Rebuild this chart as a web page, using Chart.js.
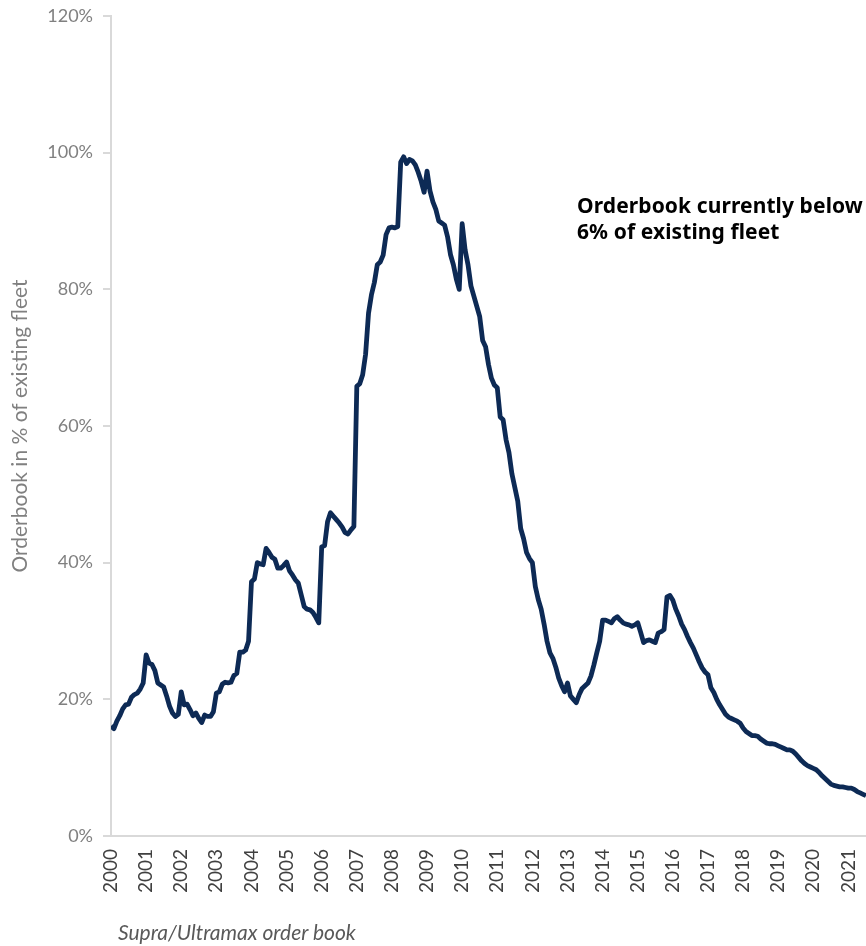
<!DOCTYPE html>
<html><head><meta charset="utf-8">
<script src="https://cdn.jsdelivr.net/npm/chart.js@4/dist/chart.umd.min.js"></script>
<style>
html,body{margin:0;padding:0;background:#fff;}
#wrap{position:relative;width:866px;height:946px;overflow:hidden;}
canvas{position:absolute;left:0;top:0;}
.note{position:absolute;left:577px;top:192px;font-family:'Noto Sans';font-weight:bold;font-size:21px;line-height:26px;color:#000;white-space:nowrap;letter-spacing:0.1px;}
.cap{position:absolute;left:118px;top:919px;font-family:Lato;font-style:italic;font-size:21px;color:#595959;white-space:nowrap;}
</style></head>
<body><div id="wrap"><canvas id="c" width="866" height="946"></canvas>
<div class="note">Orderbook currently below<br>6% of existing fleet</div>
<div class="cap">Supra/Ultramax order book</div></div>
<script>
// Monthly orderbook, % of existing fleet (Jan 2000 onwards)
const yearTicks = ['2000','2001','2002','2003','2004','2005','2006','2007','2008','2009','2010','2011','2012','2013','2014','2015','2016','2017','2018','2019','2020','2021'];
const ob2000_2003 = [
  16.1,15.7,16.8,17.6,18.6,19.2,19.3,20.3,20.7,20.9,21.5,22.4,
  26.5,25.3,25.1,24.2,22.4,22.1,21.8,20.5,19.0,18.0,17.5,17.8,
  21.1,19.2,19.3,18.5,17.6,18.0,17.2,16.6,17.7,17.5,17.5,18.2,
  20.9,21.1,22.2,22.5,22.4,22.5,23.5,23.8,26.9,26.9,27.2,28.5
];
const ob2004_2007 = [
  37.2,37.6,40.0,39.8,39.7,42.1,41.5,40.8,40.5,39.2,39.2,39.6,
  40.1,38.8,38.2,37.5,37.0,35.3,33.6,33.2,33.1,32.7,32.0,31.2,
  42.3,42.5,46.0,47.3,46.8,46.3,45.8,45.2,44.4,44.2,44.8,45.3,
  65.8,66.2,67.5,70.5,76.5,79.2,81.0,83.6,84.0,85.0,88.0,89.0
];
const ob2008_2011 = [
  89.1,89.0,89.2,98.6,99.4,98.4,99.0,98.8,98.2,97.1,95.8,94.2,
  97.3,94.4,92.8,91.7,90.0,89.7,89.4,87.7,85.1,83.6,81.5,80.0,
  89.6,85.8,83.6,80.5,79.0,77.5,76.0,72.5,71.6,69.0,67.0,66.0,
  65.6,61.3,60.9,58.0,56.1,53.0,51.0,49.0,45.0,43.5,41.5,40.6
];
const ob2012_2015 = [
  40.0,36.5,34.6,33.2,31.0,28.5,26.8,26.0,24.7,23.1,22.0,21.1,
  22.4,20.5,20.0,19.5,20.7,21.6,22.0,22.4,23.4,25.0,26.8,28.5,
  31.6,31.6,31.4,31.2,31.8,32.1,31.6,31.2,31.0,30.9,30.7,30.9,
  31.2,29.8,28.3,28.6,28.7,28.5,28.3,29.7,29.9,30.2,35.0,35.2
];
const ob2016_2021 = [
  34.5,33.2,32.2,31.0,30.2,29.2,28.3,27.5,26.5,25.5,24.6,24.0,
  23.6,21.7,21.0,20.0,19.2,18.5,17.8,17.4,17.2,17.0,16.8,16.5,
  15.8,15.3,15.0,14.7,14.7,14.6,14.2,13.9,13.6,13.5,13.5,13.4,
  13.2,13.0,12.8,12.6,12.6,12.4,12.0,11.5,11.0,10.6,10.3,10.1,
  9.9,9.7,9.3,8.8,8.4,8.0,7.6,7.4,7.3,7.2,7.2,7.1,
  7.0,7.0,6.8,6.5,6.3,6.1,5.9
];
const values = [].concat(ob2000_2003, ob2004_2007, ob2008_2011, ob2012_2015, ob2016_2021);
const points = values.map((v,i)=>({x:i, y:v}));

new Chart(document.getElementById('c'), {
  type: 'line',
  data: { datasets: [{
    data: points,
    borderColor: '#0d2a55',
    borderWidth: 4.8,
    pointRadius: 0,
    tension: 0,
    borderJoinStyle: 'round',
    borderCapStyle: 'butt'
  }]},
  options: {
    responsive: false,
    animation: false,
    events: [],
    layout: { padding: { top: 16, right: 0, left: 0, bottom: 0 } },
    plugins: { legend: { display: false }, tooltip: { enabled: false } },
    scales: {
      x: {
        type: 'linear', min: 0, max: values.length - 1,
        afterFit(s){ s.height = 110; s.paddingLeft = 0; s.paddingRight = 0; },
        grid: { display: false },
        border: { display: true, color: '#d9d9d9', width: 2 },
        ticks: {
          stepSize: 12, autoSkip: false, includeBounds: false,
          minRotation: 90, maxRotation: 90, padding: 5,
          color: '#404040', font: { family: 'Lato', size: 19 },
          callback: (v) => (v % 12 === 0 ? yearTicks[v / 12] : '')
        }
      },
      y: {
        min: 0, max: 120,
        afterFit(s){ s.width = 111; s.paddingTop = 0; s.paddingBottom = 0; },
        grid: { drawOnChartArea: false, drawTicks: true, tickLength: 8, color: '#d9d9d9', lineWidth: 2 },
        border: { color: '#d9d9d9', width: 2 },
        ticks: { stepSize: 20, padding: 10, color: '#808080', font: { family: 'Lato', size: 18 },
          callback: (v) => v + '%' },
        title: { display: true, text: 'Orderbook in % of existing fleet', color: '#808080',
          font: { family: 'Lato', size: 21 }, padding: { top: 8, bottom: 0 } }
      }
    }
  }
});
</script>
</body></html>
